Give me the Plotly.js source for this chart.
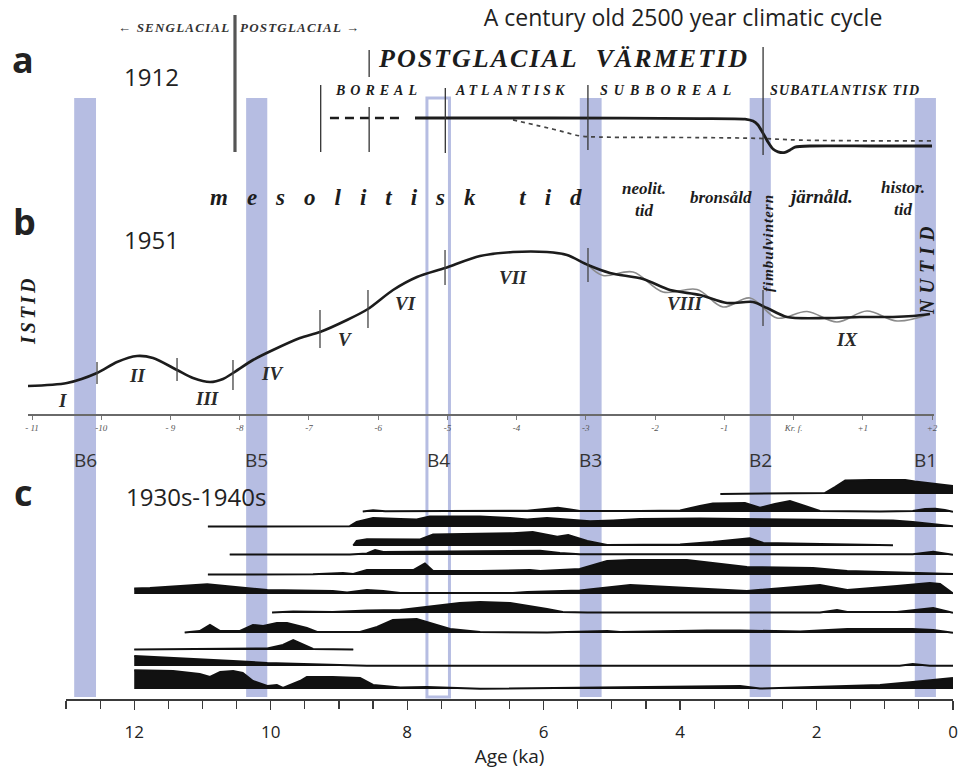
<!DOCTYPE html>
<html><head><meta charset="utf-8">
<script src="https://cdn.plot.ly/plotly-3.0.1.min.js"></script>
<style>html,body{margin:0;padding:0;background:#fff}</style>
</head><body>
<div id="chart" style="width:963px;height:771px"></div>
<script>
// ================= DATA =================
// Bands (ka BP)
const bandNames = ['B6','B5','B4','B3','B2','B1'];
const bandOld   = [12.88, 10.36, 7.71, 5.47, 2.98, 0.56];
const bandYoung = [12.56, 10.05, 7.38, 5.15, 2.67, 0.25];

// Panel a (1912): x in thousand years BC(-)/AD(+), y relative level
const a_early_x = [-6.696, -5.684];
const a_early_y = [1, 1];
const a_solid_x = [-5.468,-3.518,-1.351,-0.701,-0.585,-0.513,-0.441,-0.369,-0.297,-0.224,-0.123,-0.051,0.021,0.238,1.104,2.0];
const a_solid_y = [1,1,0.98,0.96,0.89,0.75,0.46,0.14,-0.11,-0.21,-0.23,-0.14,-0.04,0,0,0];
const a_dot_x = [-4.052,-3.662,-3.373,-3.084,-2.795,-1.351,-0.484,0.093,2.0];
const a_dot_y = [0.93,0.71,0.54,0.36,0.32,0.30,0.27,0.21,0.18];
const a_bounds = [-8.068, -6.83, -6.13, -5.03, -2.97, -0.44];

// Panel b (1951)
const b_x = [-11.058,-10.494,-10.061,-9.772,-9.483,-9.252,-8.905,-8.674,-8.429,-8.241,-8.097,-7.808,-7.519,-7.129,-6.840,-6.450,-6.147,-5.785,-5.439,-5.034,-4.529,-4.052,-3.561,-3.272,-2.969,-2.651,-2.174,-1.784,-1.351,-0.961,-0.585,-0.383,-0.094,0.483,0.960,1.437,1.725,1.971];
const b_y = [28,31,41,52,58,56,44,36,32,35,41,54,64,76,82,94,105,124,137,146,158,162,162,159,149,141,135,124,119,111,112,106,97,96,97,97,98,100];
const b_grey_x = [-2.969,-2.752,-2.319,-1.885,-1.394,-1.019,-0.629,-0.239,0.195,0.628,1.061,1.495,1.971];
const b_grey_y = [149,138.5,142,122,124.5,107,116,96,102.5,92,103,93,100];
const b_bounds = [-10.061,-8.905,-8.097,-6.840,-6.147,-5.034,-2.969,-0.441];
const b_bound_lo = [30,33,24,66,86,129,132,88];
const b_bound_hi = [52,56,54,104,124,164,166,124];
const b_zones = ['I','II','III','IV','V','VI','VII','VIII','IX'];
const b_tick_vals = [-11,-10,-9,-8,-7,-6,-5,-4,-3,-2,-1,0,1,2];
const b_tick_text = ['- 11','-10','- 9','-8','-7','-6','-5','-4','-3','-2','-1','Kr. f.','+1','+2'];

// Panel c (1930s-1940s) pollen-type silhouettes: age (ka) / relative value
const c1_age = [3.41,2.02,1.88,1.73,1.58,1.22,0.70,0.56,0.26,0.00];
const c1_val = [0,0.3,1,7,13.5,14,14,12.5,10,8];
const c2_age = [8.65,8.50,8.32,6.93,6.24,5.98,5.79,5.61,5.47,4.59,4.00,3.71,3.52,3.05,2.95,2.83,2.61,2.39,2.17,1.95,1.07,0.59,0.41,0.26,0.12,0.00];
const c2_val = [0.5,1.7,0.7,1,1.2,3,4.3,2.5,1,1,1.5,6,8.5,9,7,4.3,8,11,6,1,0.5,1,3,3.3,2,0.3];
const c3_age = [10.92,9.57,8.84,8.74,8.50,8.10,7.86,7.67,6.93,6.49,6.24,5.95,5.76,5.47,5.32,4.98,4.59,3.71,2.98,2.05,0.88,0.59,0.26,0.00];
const c3_val = [0.5,0.5,0.8,5,9,8,7.5,10.5,10.5,9,7.5,9,8,7,5.7,6.5,8,8.5,8,7,6.5,5,3,0.7];
const c4_age = [8.79,8.74,8.59,8.10,7.81,7.62,6.93,6.45,6.16,5.80,5.64,5.36,5.07,4.59,4.00,3.52,3.12,2.98,2.78,2.05,1.51,0.88];
const c4_val = [0.5,5,6.7,6.7,6.5,11.5,12.5,12.7,14,9.3,11,5,1,1,1.5,4,6.5,7.7,3,2,1,0.7];
const c5_age = [10.60,8.84,8.59,8.47,8.35,6.93,6.05,5.76,5.47,0.59,0.29,0.00];
const c5_val = [0.5,0.5,1.5,5,3,4,4.3,2,0.7,0.7,3.3,0.3];
const c6_age = [10.92,9.38,8.94,8.79,8.59,7.91,7.74,7.62,6.93,6.20,6.05,5.47,5.07,4.73,3.90,3.02,2.05,1.55,0.00];
const c6_val = [0.5,0.7,2,1,5,5,11.5,4,4,5,4,6,14,15,15,8,7,4,1];
const c7_age = [12.00,11.77,10.93,10.05,9.09,8.88,8.59,8.35,8.10,6.93,6.45,6.24,5.47,4.73,3.02,1.95,1.55,0.82,0.34,0.19,0.00];
const c7_val = [5.5,6,9.7,4,3,1.5,4,3,1,1,1,2,3.5,9,3,9,4,8,11,10,0.5];
const c8_age = [9.98,9.67,9.09,8.59,8.10,7.62,7.23,6.93,6.49,5.95,5.72,5.36,1.95,1.70,1.55,0.82,0.29,0.00];
const c8_val = [0.5,1.5,1,2.5,3,7,10,11,10,4,1,0.5,0.5,3,1,1,5,0.3];
const c9_age = [11.26,11.04,10.89,10.74,10.45,10.26,10.11,9.91,9.76,9.47,9.32,8.69,8.44,8.21,7.86,7.67,7.37,6.93,5.95,5.07,4.88,3.61,3.12,2.24,1.55,0.59,0.29,0.00];
const c9_val = [0.5,2,8,2,2,8,7,10,10,5,1,1,6,13,14,10,4,1,0.5,2,1,2.5,2.5,1.5,4,4,3,0.3];
const c10_age = [12.00,11.04,10.05,9.82,9.67,9.38,8.79];
const c10_val = [0.5,1.2,1.5,5,10,1,0.5];
const c11_age = [12.00,11.04,10.55,10.05,9.57,9.09,8.79,8.59,0.78,0.59,0.34,0.00];
const c11_val = [10,7,5,3,2,1,1,0.3,0.3,2,0.3,0.3];
const c12_age = [12.00,11.43,11.04,10.89,10.74,10.55,10.41,10.26,10.05,9.91,9.82,9.57,9.47,9.09,8.69,8.50,8.10,7.71,6.93,3.61,3.12,2.83,2.05,1.07,0.59,0.09,0.00];
const c12_val = [18.7,18,15,12,17,18,16,8,3,4,1,8,12,12,11,4,1.5,2,0.3,3,3,0.5,2,4,7,11,11];

const cRows = [[c1_age,c1_val],[c2_age,c2_val],[c3_age,c3_val],[c4_age,c4_val],[c5_age,c5_val],[c6_age,c6_val],
               [c7_age,c7_val],[c8_age,c8_val],[c9_age,c9_val],[c10_age,c10_val],[c11_age,c11_val],[c12_age,c12_val]];

// ================= LAYOUT HELPERS =================
const W = 963, H = 771;
const X = p => p / W, Y = p => 1 - p / H;
const bandColor = 'rgb(182,189,226)';
const ink = '#1c1c1c';
const sans = 'Open Sans';
const serif = (size, extra) => Object.assign({family:'Liberation Serif', size:size, color:ink, weight:'bold', style:'italic'}, extra||{});
const rowBase = [494,512,527,546,555,575,594,613,633,650,666,689];

function ann(text, px, py, font, o) {
  return Object.assign({text:text, x:X(px), y:Y(py), xref:'paper', yref:'paper', showarrow:false,
    xanchor:'center', yanchor:'middle', font:font}, o||{});
}
const ls = (t, s) => '<span style="letter-spacing:' + s + 'px">' + t + '</span>';

// ================= TRACES =================
const traces = [];
// panel a
traces.push({x:a_early_x, y:a_early_y, xaxis:'x2', yaxis:'y3', mode:'lines', line:{color:ink, width:2.6, dash:'9px,6px'}, hoverinfo:'skip'});
traces.push({x:a_dot_x, y:a_dot_y, xaxis:'x2', yaxis:'y3', mode:'lines', line:{color:'#444', width:1.7, dash:'4px,4px', shape:'spline'}, hoverinfo:'skip'});
traces.push({x:a_solid_x, y:a_solid_y, xaxis:'x2', yaxis:'y3', mode:'lines', line:{color:ink, width:2.8, shape:'spline', smoothing:0.6}, hoverinfo:'skip'});
// panel b
traces.push({x:b_grey_x, y:b_grey_y, xaxis:'x2', yaxis:'y2', mode:'lines', line:{color:'#8a8a8a', width:1.6, shape:'spline'}, hoverinfo:'skip'});
traces.push({x:b_x, y:b_y, xaxis:'x2', yaxis:'y2', mode:'lines', line:{color:ink, width:2.6, shape:'spline', smoothing:0.8}, hoverinfo:'skip'});
const bx = [], by = [];
b_bounds.forEach((u, i) => { bx.push(u, u, null); by.push(b_bound_lo[i], b_bound_hi[i], null); });
traces.push({x:bx, y:by, xaxis:'x2', yaxis:'y2', mode:'lines', line:{color:'#444', width:1.3}, hoverinfo:'skip'});
// panel c
cRows.forEach((r, i) => {
  traces.push({x:r[0], y:r[1], xaxis:'x', yaxis:'y' + (4 + i), mode:'lines', fill:'tozeroy',
    fillcolor:'#111', line:{color:'#111', width:2}, hoverinfo:'skip'});
});

// ================= LAYOUT =================
const layout = {
  width:W, height:H, margin:{l:0, r:0, t:0, b:0}, paper_bgcolor:'#fff', plot_bgcolor:'rgba(0,0,0,0)',
  showlegend:false,
  title:{text:'A century old 2500 year climatic cycle', x:X(683), xanchor:'center', y:Y(18), yanchor:'middle',
    xref:'paper', yref:'paper', font:{family:sans, size:23, color:'#222'}},
  xaxis:{domain:[X(66), X(953)], range:[13, 0], anchor:'free', position:Y(699), showline:true, linecolor:'#3a3a3a',
    linewidth:1.5, ticks:'outside', ticklen:9, tickwidth:1.3, tickcolor:'#3a3a3a', tick0:0, dtick:2,
    tickfont:{family:sans, size:17, color:'#222'}, ticklabelstandoff:8,
    minor:{tick0:0, dtick:0.5, ticks:'outside', ticklen:8, tickwidth:1.2, tickcolor:'#3a3a3a', showgrid:false},
    showgrid:false, zeroline:false, fixedrange:true,
    title:{text:'Age (ka)', font:{family:sans, size:19, color:'#222'}, standoff:2}},
  yaxis:{visible:false, domain:[0,0.05]},
  xaxis2:{domain:[X(28), X(934)], range:[-11.0578, 2.0289], anchor:'y2', showline:true, linecolor:'#6a6a6a', linewidth:1.6,
    ticks:'outside', ticklen:4, tickcolor:'#777', tickvals:b_tick_vals, ticktext:b_tick_text,
    tickfont:{family:'Liberation Serif', size:9, color:'#555', style:'italic'}, ticklabelstandoff:1,
    showgrid:false, zeroline:false, fixedrange:true},
  yaxis2:{domain:[Y(414), Y(175)], range:[0, 239], visible:false, fixedrange:true},
  yaxis3:{domain:[Y(165), Y(95)], range:[-0.679, 1.821], visible:false, fixedrange:true},
  shapes:[], annotations:[]
};
rowBase.forEach((b, i) => {
  layout['yaxis' + (4 + i)] = {domain:[Y(b + 2), Y(b - 22)], range:[-2, 22], visible:false, fixedrange:true};
});

// bands
bandNames.forEach((n, i) => {
  const outlined = (n === 'B4');
  layout.shapes.push({type:'rect', xref:'x', yref:'paper', x0:bandOld[i], x1:bandYoung[i], y0:Y(697), y1:Y(98),
    fillcolor: outlined ? 'rgba(0,0,0,0)' : bandColor, line:{width: outlined ? 3 : 0, color:bandColor}, layer:'below'});
  layout.annotations.push({text:n, x:(bandOld[i] + bandYoung[i]) / 2, xref:'x', y:Y(460), yref:'paper', showarrow:false,
    xanchor:'center', yanchor:'middle', font:{family:sans, size:19, color:'#333'}});
});
// panel a vertical period boundaries
const aTop = [15, 85, 107, 88, 85, 47], aBot = [152, 152, 152, 153, 150, 155], aW = [3.2, 1.3, 1.3, 1.3, 1.3, 1.3];
a_bounds.forEach((u, i) => {
  layout.shapes.push({type:'line', xref:'x2', yref:'paper', x0:u, x1:u, y0:Y(aBot[i]), y1:Y(aTop[i]),
    line:{color: i === 0 ? '#555' : '#333', width:aW[i]}});
});
layout.shapes.push({type:'line', xref:'x2', yref:'paper', x0:a_bounds[2], x1:a_bounds[2], y0:Y(77), y1:Y(50), line:{color:'#333', width:1.3}});

// text annotations
const A = layout.annotations;
A.push(ann('a', 23, 60, {family:sans, size:36, color:'#222', weight:'bold'}));
A.push(ann('b', 24, 222, {family:sans, size:36, color:'#222', weight:'bold'}));
A.push(ann('c', 23, 493, {family:sans, size:36, color:'#222', weight:'bold'}));
A.push(ann('1912', 151, 77, {family:sans, size:24, color:'#222'}));
A.push(ann('1951', 151, 239, {family:sans, size:24, color:'#222'}));
A.push(ann('1930s-1940s', 196, 496, {family:sans, size:24, color:'#222'}));
// panel a captions
A.push(ann(ls('← SENGLACIAL', 1.2), 232, 28, serif(13, {color:'#333'}), {xanchor:'right'}));
A.push(ann(ls('POSTGLACIAL →', 1.2), 238, 28, serif(13, {color:'#333'}), {xanchor:'left'}));
A.push(ann(ls('POSTGLACIAL\u00a0\u00a0VÄRMETID', 2), 376, 59, serif(26), {xanchor:'left'}));
A.push(ann(ls('BOREAL', 5), 333, 90, serif(14), {xanchor:'left'}));
A.push(ann(ls('ATLANTISK', 4), 453, 90, serif(14), {xanchor:'left'}));
A.push(ann(ls('SUBBOREAL', 6), 598, 90, serif(14), {xanchor:'left'}));
A.push(ann(ls('SUBATLANTISK TID', 1.2), 768, 90, serif(14), {xanchor:'left'}));
// panel b captions
A.push(ann(ls('mesolitisk tid', 19), 208, 198, serif(23), {xanchor:'left'}));
A.push(ann('neolit.<br>tid', 644, 200, serif(17)));
A.push(ann('bronsåld', 721, 198, serif(17)));
A.push(ann('järnåld.', 820, 197, serif(19)));
A.push(ann('histor.<br>tid', 903, 199, serif(17)));
A.push(ann(ls('fimbulvintern', 1), 768, 243, serif(15), {textangle:-90}));
A.push(ann(ls('ISTID', 3), 28, 311, serif(20), {textangle:-90}));
A.push(ann(ls('NUTID', 6), 927, 268, serif(20), {textangle:-90}));
const zonePos = [[63,400],[137,375],[207,398],[272,373],[345,339],[405,304],[513,277],[684,304],[847,339]];
b_zones.forEach((z, i) => A.push(ann(z, zonePos[i][0], zonePos[i][1], serif(19, {color:'#2a2a2a'}))));

Plotly.newPlot('chart', traces, layout, {staticPlot:true, displayModeBar:false});
</script>
</body></html>
